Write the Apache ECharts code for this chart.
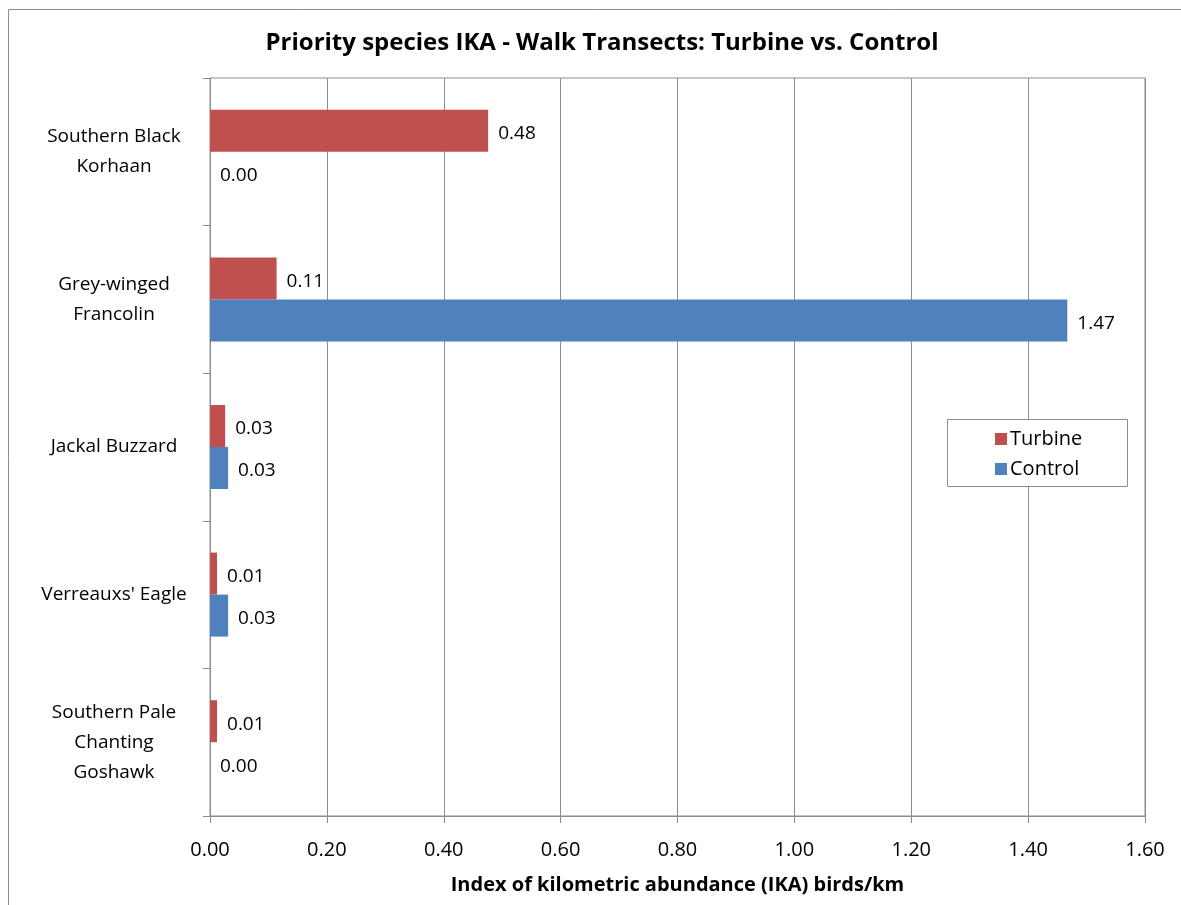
<!DOCTYPE html>
<html>
<head>
<meta charset="utf-8">
<script src="https://cdn.jsdelivr.net/npm/echarts@6/dist/echarts.min.js"></script>
<style>
    html, body { margin: 0; padding: 0; background: #fff; }
    #chart { width: 1181px; height: 905px; }
</style>
</head>
<body>
<div id="chart"></div>
<script>
var species = ['Southern Black\nKorhaan', 'Grey-winged\nFrancolin', 'Jackal Buzzard', "Verreauxs' Eagle", 'Southern Pale\nChanting\nGoshawk'];
var turbine = [0.476, 0.114, 0.026, 0.012, 0.012];
var control = [0, 1.467, 0.031, 0.031, 0];
var xTicks = [0, 0.2, 0.4, 0.6, 0.8, 1.0, 1.2, 1.4, 1.6];

var font = '"Open Sans", "Noto Sans", sans-serif';
var chart = echarts.init(document.getElementById('chart'));

function barLabel() {
    return {
        show: true,
        position: 'right',
        distance: 10,
        offset: [0, 3],
        color: '#000',
        fontFamily: font,
        fontSize: 19,
        formatter: function (p) { return p.value.toFixed(2); }
    };
}

var option = {
    backgroundColor: '#fff',
    animation: false,
    title: {
        text: 'Priority species IKA - Walk Transects: Turbine vs. Control',
        left: 597,
        top: 26,
        textAlign: 'center',
        textStyle: { fontFamily: font, fontSize: 24, fontWeight: 'bold', color: '#000' }
    },
    graphic: [{
        type: 'rect',
        shape: { x: 8.5, y: 9.5, width: 1200, height: 1000 },
        style: { fill: 'none', stroke: '#8c8c8c', lineWidth: 1 },
        silent: true
    }, {
        type: 'rect',
        shape: { x: 947.5, y: 419.5, width: 180, height: 67 },
        style: { fill: '#fff', stroke: '#8c8c8c', lineWidth: 1 },
        z: 5,
        silent: true
    }],
    legend: {
        orient: 'vertical',
        left: 990,
        top: 424,
        icon: 'rect',
        itemWidth: 12,
        itemHeight: 12,
        itemGap: 10,
        z: 10,
        textStyle: { fontFamily: font, fontSize: 20, color: '#000', padding: [0, 0, 0, -2] },
        data: ['Turbine', 'Control']
    },
    grid: { left: 210, right: 36, top: 78, bottom: 89, containLabel: false,
        show: true, borderColor: '#8c8c8c', borderWidth: 1 },
    xAxis: {
        type: 'value',
        min: 0,
        max: 1.6,
        interval: 0.2,
        name: 'Index of kilometric abundance (IKA) birds/km',
        nameLocation: 'middle',
        nameGap: 59,
        nameTextStyle: { fontFamily: font, fontSize: 20, fontWeight: 'bold', color: '#000' },
        axisLine: { show: true, lineStyle: { color: '#8c8c8c' } },
        axisTick: { show: true, length: 7, lineStyle: { color: '#8c8c8c' } },
        axisLabel: {
            fontFamily: font, fontSize: 20, color: '#000', margin: 24,
            formatter: function (v) { return v.toFixed(2); }
        },
        splitLine: { show: true, lineStyle: { color: '#8c8c8c', width: 1 } }
    },
    yAxis: {
        type: 'category',
        inverse: true,
        data: species,
        axisLine: { show: true, lineStyle: { color: '#8c8c8c' } },
        axisTick: { show: true, length: 7, inside: false, lineStyle: { color: '#8c8c8c' } },
        axisLabel: {
            fontFamily: font, fontSize: 19, color: '#000', margin: 96,
            align: 'center', lineHeight: 30, padding: [4, 0, 0, 0]
        },
        splitLine: { show: false }
    },
    series: [{
        name: 'Turbine',
        type: 'bar',
        data: turbine,
        barWidth: 42,
        barGap: '0%',
        itemStyle: { color: '#C0504D' },
        label: barLabel()
    }, {
        name: 'Control',
        type: 'bar',
        data: control,
        barWidth: 42,
        barGap: '0%',
        itemStyle: { color: '#4F81BD' },
        label: barLabel()
    }]
};

chart.setOption(option);
</script>
</body>
</html>
